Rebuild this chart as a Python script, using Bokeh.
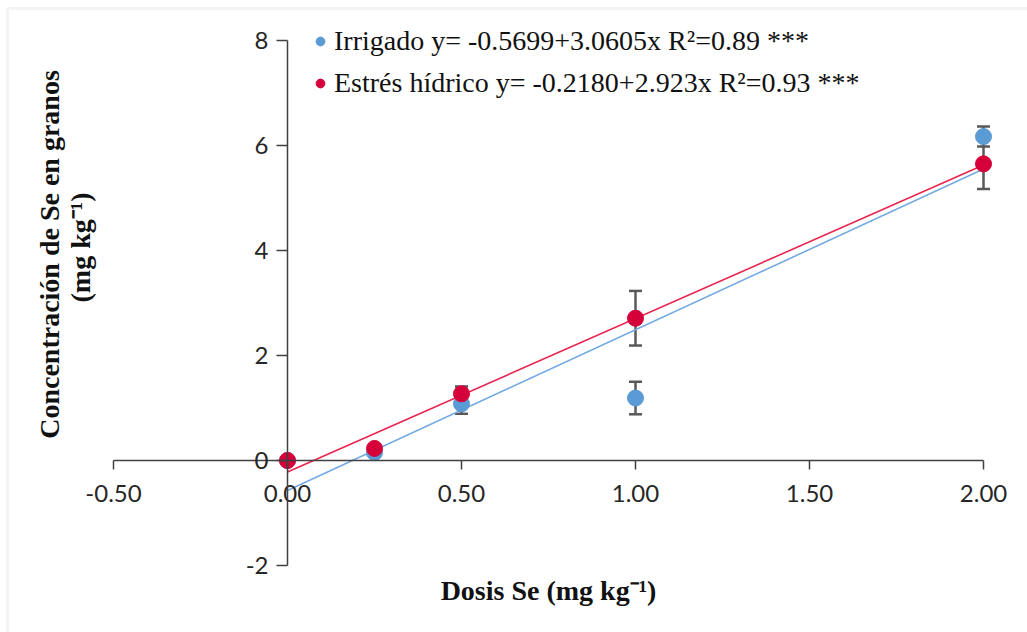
import math
from bokeh.plotting import figure
from bokeh.models import (ColumnDataSource, LinearAxis, FixedTicker, NumeralTickFormatter,
                          Whisker, TeeHead, Label, Legend, LegendItem, BoxAnnotation, Range1d)
from bokeh.embed import file_html
from bokeh.resources import INLINE

# ---- data ----
dosis = [0.0, 0.25, 0.5, 1.0, 2.0]
irrigado = [0.0, 0.15, 1.08, 1.19, 6.17]
irrigado_err = [0.0, 0.0, 0.19, 0.31, 0.19]
estres = [0.0, 0.23, 1.27, 2.71, 5.65]
estres_err = [0.0, 0.0, 0.14, 0.52, 0.48]

# regression coefficients (intercept, slope)
irrigado_fit = [-0.5699, 3.0605]
estres_fit = [-0.2180, 2.923]
fit_x = [0.0, 2.0]

x_ticks = [-0.5, 0.0, 0.5, 1.0, 1.5, 2.0]
y_ticks = [-2, 0, 2, 4, 6, 8]

label_irr = "Irrigado y= -0.5699+3.0605x R\u00b2=0.89 ***"
label_est = "Estr\u00e9s h\u00eddrico y= -0.2180+2.923x R\u00b2=0.93 ***"

BLUE = "#5B9BD5"
BLUE_LINE = "#74AAE0"
RED = "#D5003A"
RED_LINE = "#E8254F"
ERR = "#595959"
AXIS = "#404040"

W, H = 1027, 632
p = figure(width=W, height=H, output_backend="svg", toolbar_location=None,
           x_axis_location=None, y_axis_location=None,
           x_range=Range1d(-0.8247, 2.1264), y_range=Range1d(-3.2762, 8.7619),
           min_border_left=0, min_border_right=0, min_border_top=0, min_border_bottom=0)
p.outline_line_color = None
p.grid.visible = False
p.background_fill_color = "white"
p.border_fill_color = "white"

# frame border (light gray)
p.add_layout(BoxAnnotation(left=7, right=W + 50, top=H - 8, bottom=-50,
                           left_units="screen", right_units="screen",
                           top_units="screen", bottom_units="screen",
                           fill_alpha=0, line_color="#D9D9D9", line_width=3))

# axes crossing at 0
xaxis = LinearAxis(fixed_location=0, bounds=(x_ticks[0], x_ticks[-1]),
                   ticker=FixedTicker(ticks=x_ticks),
                   formatter=NumeralTickFormatter(format="0.00"))
yaxis = LinearAxis(fixed_location=0, bounds=(y_ticks[0], y_ticks[-1]),
                   ticker=FixedTicker(ticks=y_ticks),
                   formatter=NumeralTickFormatter(format="0"))
for ax in (xaxis, yaxis):
    ax.axis_line_color = AXIS
    ax.axis_line_width = 1.5
    ax.major_tick_line_color = AXIS
    ax.major_tick_line_width = 1.5
    ax.major_tick_in = 0
    ax.minor_tick_line_color = None
    ax.major_label_text_font = "Lato"
    ax.major_label_text_font_size = "24px"
    ax.major_label_text_color = "#262626"
xaxis.major_tick_out = 9
xaxis.major_label_standoff = 16
yaxis.major_tick_out = 11
yaxis.major_label_standoff = 8
p.add_layout(xaxis, "below")
p.add_layout(yaxis, "left")

# error bars (under markers)
def whisker_source(ys, errs):
    xs = [x for x, e in zip(dosis, errs) if e > 0]
    lo = [y - e for y, e in zip(ys, errs) if e > 0]
    hi = [y + e for y, e in zip(ys, errs) if e > 0]
    return ColumnDataSource(dict(x=xs, lower=lo, upper=hi))

for ys, errs in ((irrigado, irrigado_err), (estres, estres_err)):
    w = Whisker(source=whisker_source(ys, errs), base="x", lower="lower", upper="upper",
                line_color=ERR, line_width=2.5, level="underlay",
                upper_head=TeeHead(size=13, line_color=ERR, line_width=2.5),
                lower_head=TeeHead(size=13, line_color=ERR, line_width=2.5))
    p.add_layout(w)

# regression lines
p.line(fit_x, [irrigado_fit[0] + irrigado_fit[1] * x for x in fit_x],
       line_color=BLUE_LINE, line_width=1.6)
p.line(fit_x, [estres_fit[0] + estres_fit[1] * x for x in fit_x],
       line_color=RED_LINE, line_width=1.6)

# points
r_irr = p.scatter(dosis, irrigado, size=16, fill_color=BLUE, line_color=BLUE)
r_est = p.scatter(dosis, estres, size=16, fill_color=RED, line_color=RED)

# legend: location is its bottom-left corner (screen units from bottom)
legend = Legend(items=[LegendItem(label=label_irr, renderers=[r_irr]),
                       LegendItem(label=label_est, renderers=[r_est])],
                location=(309, H - 20 - 84), orientation="vertical",
                glyph_width=22, glyph_height=22, label_height=42, spacing=0,
                label_standoff=3, padding=0, margin=0,
                label_text_font="Liberation Serif", label_text_font_size="28px",
                label_text_color="#111111",
                border_line_color=None, background_fill_alpha=0)
p.add_layout(legend)

# axis titles
title_font = "Liberation Serif"
p.add_layout(Label(x=548, y=H - 590, x_units="screen", y_units="screen",
                   text="Dosis Se (mg kg\u207b\u00b9)", text_align="center", text_baseline="middle",
                   text_font=title_font, text_font_style="bold", text_font_size="28px",
                   text_color="#111111"))
p.add_layout(Label(x=49, y=H - 254, x_units="screen", y_units="screen", angle=math.pi / 2,
                   text="Concentraci\u00f3n de Se en granos", text_align="center",
                   text_baseline="middle", text_font=title_font, text_font_style="bold",
                   text_font_size="28px", text_color="#111111"))
p.add_layout(Label(x=80, y=H - 247, x_units="screen", y_units="screen", angle=math.pi / 2,
                   text="(mg kg\u207b\u00b9)", text_align="center",
                   text_baseline="middle", text_font=title_font, text_font_style="bold",
                   text_font_size="28px", text_color="#111111"))

open("out.html", "w").write(file_html(p, INLINE))
